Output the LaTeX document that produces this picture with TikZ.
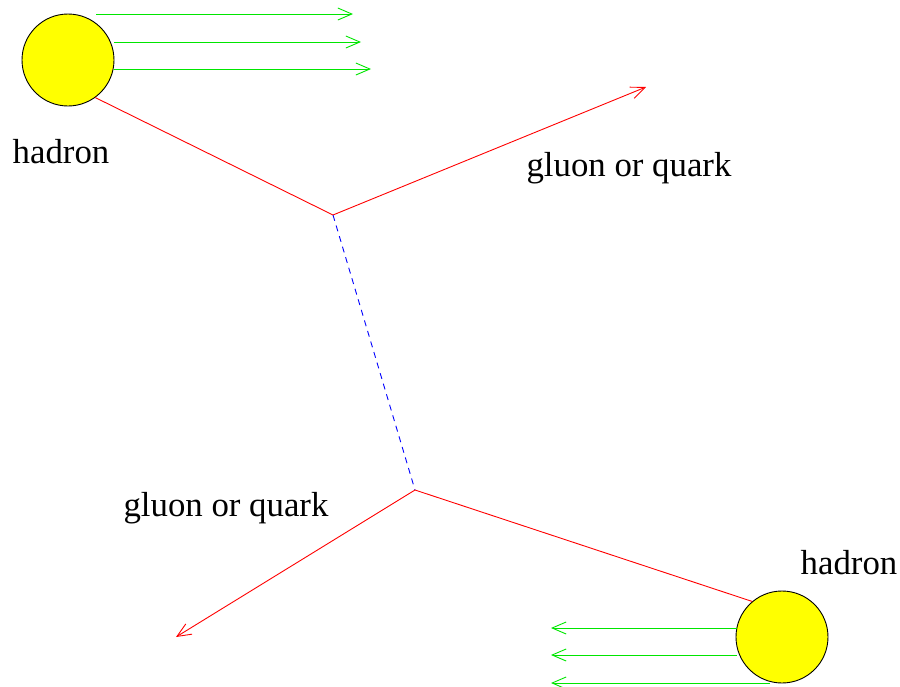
\documentclass[tikz,border=0pt]{standalone}
\usepackage{fontspec}
\setmainfont{Liberation Serif}
\definecolor{bolaamarilla}{RGB}{255, 255, 0}
\definecolor{verdehaz}{RGB}{0, 230, 0}
\usetikzlibrary{positioning,arrows.meta}

\begin{document}
\begin{tikzpicture}[
    x=1pt, y=-1pt,
    font=\fontsize{34.8}{40}\selectfont,
    hadron/.style={circle, draw=black, line width=0.9pt, fill=bolaamarilla,
      minimum size=92pt, inner sep=0pt},
    parton/.style={draw=red, line width=0.9pt},
    beam/.style={draw=verdehaz, line width=0.9pt},
    exchange/.style={draw=blue, line width=0.9pt, dash pattern=on 6pt off 5pt},
    >={Straight Barb[length=14pt, width=12pt, line width=0.9pt]}
  ]
    \useasboundingbox (0,0) rectangle (900,686);

    \node[hadron] (h1) at (68,60) {};
    \node[hadron] (h2) at (782,637) {};
    \node (l1) at (61,152) {hadron};
    \node (l2) at (849,563) {hadron};
    \node (g1) at (629,168) {gluon or quark};
    \node (g2) at (226,508) {gluon or quark};

    \coordinate (v1) at (333,215);
    \coordinate (v2) at (415,490);
    \coordinate (out1) at (646,87);
    \coordinate (out2) at (176,637);

    % beams
    \coordinate (b1s) at (96,14);   \coordinate (b1e) at (353,14);
    \coordinate (b2s) at (114,42);  \coordinate (b2e) at (361,42);
    \coordinate (b3s) at (114,69);  \coordinate (b3e) at (371,69);
    \coordinate (b4s) at (737,628); \coordinate (b4e) at (551,628);
    \coordinate (b5s) at (737,655); \coordinate (b5e) at (551,655);
    \coordinate (b6s) at (770,683); \coordinate (b6e) at (551,683);
    \foreach \i in {1,...,6}
      \draw[beam, ->] (b\i s) -- (b\i e);

    \draw[parton] (h1.-54) -- (v1);
    \draw[parton, ->] (v1) -- (out1);
    \draw[exchange] (v1) -- (v2);
    \draw[parton] (h2.130) -- (v2);
    \draw[parton, ->] (v2) -- (out2);
\end{tikzpicture}
\end{document}
